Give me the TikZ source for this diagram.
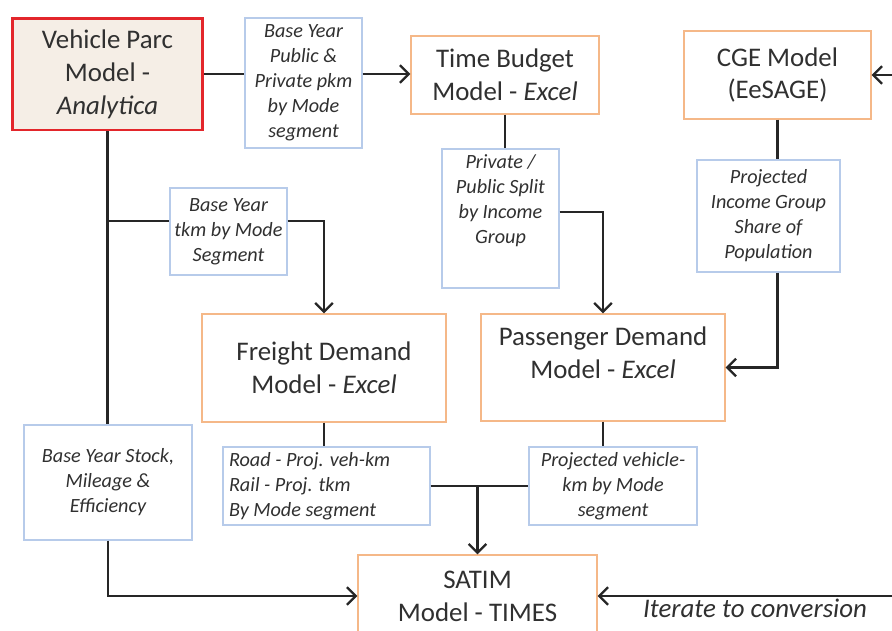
\documentclass[tikz,border=0pt]{standalone}
\usepackage{fontspec}
\setmainfont{Carlito}
\usetikzlibrary{arrows.meta}
\definecolor{parcred}{HTML}{E3262B}
\definecolor{parcfill}{HTML}{F5EEE6}
\definecolor{modelorange}{HTML}{F5B888}
\definecolor{noteblue}{HTML}{B7CBEA}
\definecolor{inktext}{HTML}{303030}
\definecolor{inkline}{HTML}{262626}
\def\bigfont{\fontsize{15.3}{18.7}\selectfont}
\def\smallfont{\fontsize{11.5}{14.2}\selectfont}
\def\topbox[#1:#2]#3{\parbox[c][#2][t]{#1}{\centering #3}}
\tikzset{
	model/.style={draw=modelorange, line width=0.7pt, text=inktext, font=\bigfont, align=center, inner sep=0pt},
	note/.style={draw=noteblue, line width=0.7pt, text=inktext, font=\smallfont\itshape, align=center, inner sep=0pt},
	flow/.style={draw=inkline, line width=1.3pt},
	>={Straight Barb[length=5pt,width=10pt]}
}

\begin{document}
\begin{tikzpicture}[x=0.02cm, y=-0.02cm]
			%%%%% START %%%%%
			\useasboundingbox (0,0) rectangle (892,630);
			\clip (0,0) rectangle (892,630);
			
			% models
			\node[model, draw=parcred, line width=1.7pt, fill=parcfill, minimum width=3.82cm, minimum height=2.24cm] (parc) at (107.5,74) {Vehicle Parc\\Model -\\\textit{Analytica}};
			\node[model, minimum width=3.76cm, minimum height=1.56cm] (budget) at (505,75) {Time Budget\\Model - \textit{Excel}};
			\node[model, minimum width=3.74cm, minimum height=1.76cm] (cge) at (777.5,75) {CGE Model\\(EeSAGE)};
			\node[model, minimum width=4.88cm, minimum height=2.16cm] (freight) at (324,368) {Freight Demand\\Model - \textit{Excel}};
			\node[model, minimum width=4.88cm, minimum height=2.14cm] (passenger) at (603,367.5) {\topbox[4.8cm:1.62cm]{Passenger Demand\\Model - \textit{Excel}}};
			\node[model, minimum width=4.78cm, minimum height=1.64cm] (satim) at (477.5,596) {SATIM\\Model - TIMES};
			
			% data passed on
			\node[note, minimum width=2.34cm, minimum height=2.6cm] (pkm) at (303.5,83) {Base Year\\Public \&\\Private pkm\\by Mode\\segment};
			\node[note, minimum width=2.34cm, minimum height=2.78cm] (split) at (500.5,218.5) {\topbox[2.3cm:2.54cm]{Private /\\Public Split\\by Income\\Group}};
			\node[note, minimum width=2.86cm, minimum height=2.24cm] (income) at (768.5,216) {Projected\\Income Group\\Share of\\Population};
			\node[note, minimum width=2.34cm, minimum height=1.74cm] (tkm) at (228.5,231.5) {Base Year\\tkm by Mode\\Segment};
			\node[note, minimum width=3.36cm, minimum height=2.3cm] (stock) at (108,482.5) {Base Year Stock,\\Mileage \&\\Efficiency};
			\node[note, minimum width=4.14cm, minimum height=1.56cm] (road) at (326.5,486) {\parbox{3.9cm}{\raggedright Road - Proj. veh-km\\Rail - Proj. tkm\\By Mode segment}};
			\node[note, minimum width=3.36cm, minimum height=1.56cm] (vehkm) at (613,486) {Projected vehicle-\\km by Mode\\segment};
			
			\node[text=inktext, font=\bigfont\itshape] (iterate) at (755,608) {Iterate to conversion};
			
			\coordinate (edgecge) at (892,75);
			\coordinate (edgesat) at (892,596);
			\coordinate (fork) at (107.5,221);
			
			% links
			\draw[flow] (parc.east) -- (parc.east -| pkm.west);
			\draw[flow,->] (parc.east -| pkm.east) -- (parc.east -| budget.west);
			\draw[flow,->] (edgecge) -- (cge.east);
			
			\draw[flow] (parc.south) -- (parc.south |- stock.north);
			\draw[flow] (fork) -- (fork -| tkm.west);
			\draw[flow,->] (fork -| tkm.east) -| (freight.north);
			\draw[flow,->] (stock.south) |- (satim.west);
			
			\draw[flow] (budget.south) -- (budget.south |- split.north);
			\draw[flow,->] ([yshift=0.13cm]split.east) -| (passenger.north);
			
			\draw[flow] (cge.south) -- (cge.south |- income.north);
			\draw[flow,->] (cge.south |- income.south) |- (passenger.east);
			
			\draw[flow] (freight.south) -- (freight.south |- road.north);
			\draw[flow] (passenger.south) -- (passenger.south |- vehkm.north);
			\draw[flow] (road.east) -- (road.east -| vehkm.west);
			\draw[flow,->] (road.east -| satim.north) -- (satim.north);
			\draw[flow,->] (edgesat) -- (satim.east);
			
			%%%%% END %%%%%
\end{tikzpicture}
\end{document}
